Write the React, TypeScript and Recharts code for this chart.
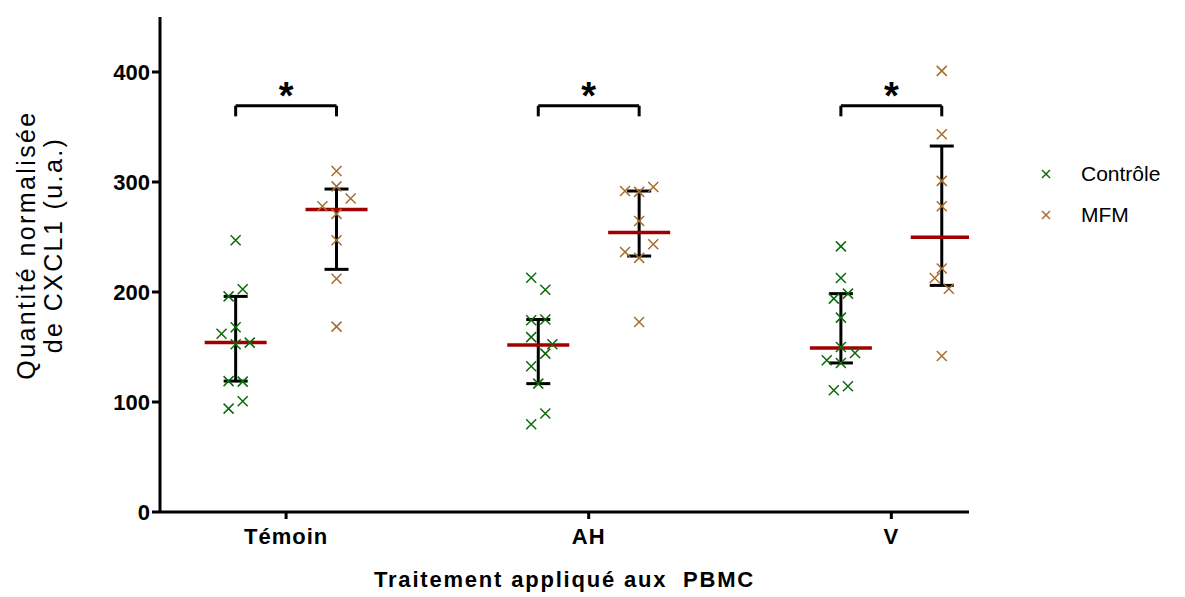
import {
  ScatterChart,
  Scatter,
  XAxis,
  YAxis,
  ErrorBar,
  ReferenceLine,
  ReferenceDot,
} from "recharts";

const categories = ["Témoin", "AH", "V"];

// values, one list per group
const controleTemoin = [247, 196, 202.5, 162, 168, 152.5, 154, 119, 118.5, 100.6, 94];
const controleAH = [213, 202, 174.3, 175, 159, 152.5, 144, 132.5, 116.7, 89.5, 79.7];
const controleV = [241.5, 212.7, 198.5, 194, 176.7, 150, 144.5, 138, 135.5, 114.3, 110.6];
const mfmTemoin = [310, 296, 285, 278, 271, 247, 212, 168.5];
const mfmAH = [291.8, 291, 295.5, 264.5, 243.4, 236.4, 231, 172.7];
const mfmV = [401, 343.4, 301, 278, 221.3, 212.7, 203, 141.8];

// jitter column of each point (-2..2)
const colControleTemoin = [0, -1, 1, -2, 0, 0, 2, -1, 1, 1, -1];
const colControleAH = [-1, 1, -1, 1, -1, 2, 1, -1, 0, 1, -1];
const colControleV = [0, 0, 1, -1, 0, 0, 2, -2, 0, 1, -1];
const colMfmTemoin = [0, 0, 2, -2, 0, 0, 0, 0];
const colMfmAH = [-2, 0, 2, 0, 2, -2, 0, 0];
const colMfmV = [0, 0, 0, 0, 0, -1, 1, 0];

// median and interquartile range per group
const medControle = [154, 151.8, 149];
const q1Controle = [119, 116.7, 135.5];
const q3Controle = [196, 175, 198.5];
const medMfm = [275, 254, 249.7];
const q1Mfm = [220.6, 232.7, 206];
const q3Mfm = [293.6, 291.8, 332.7];

const bracketTop = 369.3;
const bracketFoot = 359.7;
const starValue = 379;

const GREEN = "#0b6b0b";
const BROWN = "#a86d2c";
const RED = "#a00000";
const FONT = '"Liberation Sans", Arial, sans-serif';

const JIT = 0.07;
const ctrlX = (i: number) => 1 + 3 * i;
const mfmX = (i: number) => 2 + 3 * i;

const toPoints = (vals: number[], cols: number[], x: number) =>
  vals.map((y, k) => ({ x: x + cols[k] * JIT, y }));

const controleData = [
  ...toPoints(controleTemoin, colControleTemoin, ctrlX(0)),
  ...toPoints(controleAH, colControleAH, ctrlX(1)),
  ...toPoints(controleV, colControleV, ctrlX(2)),
];
const mfmData = [
  ...toPoints(mfmTemoin, colMfmTemoin, mfmX(0)),
  ...toPoints(mfmAH, colMfmAH, mfmX(1)),
  ...toPoints(mfmV, colMfmV, mfmX(2)),
];

const summaryData = categories.flatMap((_, i) => [
  { x: ctrlX(i), y: medControle[i], err: [medControle[i] - q1Controle[i], q3Controle[i] - medControle[i]] },
  { x: mfmX(i), y: medMfm[i], err: [medMfm[i] - q1Mfm[i], q3Mfm[i] - medMfm[i]] },
]);

const cross = (color: string, r = 5) => (props: any) => {
  const { cx, cy } = props;
  return (
    <path
      d={`M${cx - r},${cy - r}L${cx + r},${cy + r}M${cx - r},${cy + r}L${cx + r},${cy - r}`}
      stroke={color}
      strokeWidth={1.5}
      fill="none"
    />
  );
};

const medianBar = (props: any) => {
  const { cx, cy } = props;
  return <line x1={cx - 31} x2={cx + 31} y1={cy} y2={cy} stroke={RED} strokeWidth={3.5} />;
};

const YLabel = () => (
  <g>
    <text
      transform="translate(35,245) rotate(-90)"
      textAnchor="middle"
      fontSize={25}
      letterSpacing={2.4}
      fontFamily={FONT}
      fill="#000"
    >
      Quantité normalisée
    </text>
    <text
      transform="translate(62,245) rotate(-90)"
      textAnchor="middle"
      fontSize={25}
      letterSpacing={2.4}
      fontFamily={FONT}
      fill="#000"
    >
      de CXCL1 (u.a.)
    </text>
  </g>
);

const LegendItem = ({ color, label, top }: { color: string; label: string; top: number }) => (
  <div style={{ position: "absolute", left: 1040, top, display: "flex", alignItems: "center" }}>
    <svg width={12} height={12} style={{ marginRight: 29 }}>
      <path d="M2,2L10,10M2,10L10,2" stroke={color} strokeWidth={1.5} />
    </svg>
    <span style={{ fontSize: 21, fontFamily: FONT, color: "#000" }}>{label}</span>
  </div>
);

export default function App() {
  return (
    <div style={{ position: "absolute", left: 0, top: 0, width: 1185, height: 597, background: "#fff" }}>
      <ScatterChart
        width={1185}
        height={597}
        margin={{ top: 17, right: 216, bottom: 0, left: 0 }}
        style={{ fontFamily: FONT }}
      >
        <XAxis
          type="number"
          dataKey="x"
          domain={[0.25, 8.27]}
          ticks={[1.5, 4.5, 7.5]}
          tickFormatter={(v: number) => categories[Math.round((v - 1.5) / 3)]}
          allowDataOverflow
          height={85}
          axisLine={{ stroke: "#000", strokeWidth: 3 }}
          tickLine={{ stroke: "#000", strokeWidth: 3 }}
          tickSize={7}
          tickMargin={9}
          tick={{ fill: "#000", fontSize: 22, fontWeight: "bold", letterSpacing: 1 }}
          label={{
            value: "Traitement appliqué aux\u00a0 PBMC",
            position: "insideBottom",
            offset: 10,
            fill: "#000",
            fontSize: 22,
            fontWeight: "bold",
            letterSpacing: 1.8,
          }}
        />
        <YAxis
          type="number"
          dataKey="y"
          domain={[0, 450]}
          ticks={[0, 100, 200, 300, 400]}
          width={160}
          axisLine={{ stroke: "#000", strokeWidth: 3 }}
          tickLine={{ stroke: "#000", strokeWidth: 3 }}
          tickSize={8}
          tickMargin={2}
          tick={{ fill: "#000", fontSize: 22, fontWeight: "bold" }}
          label={{ content: () => <YLabel /> }}
        />
        <Scatter data={summaryData} shape={medianBar} isAnimationActive={false}>
          <ErrorBar dataKey="err" direction="y" width={12} stroke="#000" strokeWidth={3} />
        </Scatter>
        <Scatter name="Contrôle" data={controleData} shape={cross(GREEN)} isAnimationActive={false} />
        <Scatter name="MFM" data={mfmData} shape={cross(BROWN)} isAnimationActive={false} />
        {categories.map((c, i) => (
          <ReferenceLine
            key={`b${c}`}
            segment={[
              { x: ctrlX(i), y: bracketFoot },
              { x: ctrlX(i), y: bracketTop },
            ]}
            stroke="#000"
            strokeWidth={3}
          />
        ))}
        {categories.map((c, i) => (
          <ReferenceLine
            key={`t${c}`}
            segment={[
              { x: ctrlX(i), y: bracketTop },
              { x: mfmX(i), y: bracketTop },
            ]}
            stroke="#000"
            strokeWidth={3}
          />
        ))}
        {categories.map((c, i) => (
          <ReferenceLine
            key={`e${c}`}
            segment={[
              { x: mfmX(i), y: bracketFoot },
              { x: mfmX(i), y: bracketTop },
            ]}
            stroke="#000"
            strokeWidth={3}
          />
        ))}
        {categories.map((c, i) => (
          <ReferenceDot
            key={`s${c}`}
            x={(ctrlX(i) + mfmX(i)) / 2}
            y={starValue}
            r={0}
            stroke="none"
            label={{ value: "*", position: "center", fontSize: 38, fontWeight: "bold", fill: "#000" }}
          />
        ))}
      </ScatterChart>
      <LegendItem color={GREEN} label="Contrôle" top={162} />
      <LegendItem color={BROWN} label="MFM" top={203} />
    </div>
  );
}
